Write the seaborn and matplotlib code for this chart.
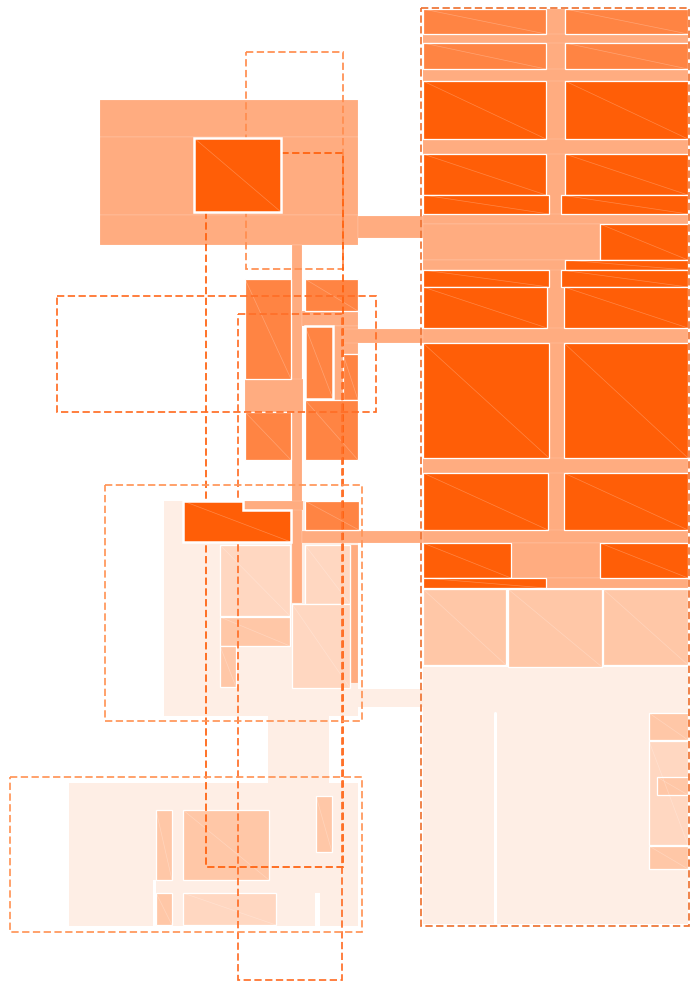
import matplotlib
matplotlib.use("Agg")
import matplotlib.pyplot as plt
from matplotlib.patches import Rectangle, Polygon
import seaborn as sns

sns.set_theme(style="white")

# colour levels of the plan (lightest -> darkest)
level_colors = sns.color_palette(["#FEEEE5", "#FFD7C1", "#FFC7A7", "#FFAC80", "#FF8443", "#FF5E07"])

# plan regions as (x0, y0, x1, y1) in plan units
open_areas = [  # level 0
    (164, 501, 358, 716), (358, 689, 423, 707), (268, 716, 329, 783),
    (69, 783, 358, 926), (423, 667, 688, 924),
]
gaps = [(315, 893, 320, 927), (153, 880, 156, 927)]  # white gaps cut into open areas
walls = [((495, 713), (495, 924))]  # white partition lines
light_rooms = [  # level 1
    (220, 545, 290, 616), (305, 545, 350, 604), (292, 604, 350, 688),
    (183, 893, 276, 925), (649, 741, 688, 845),
]
peach_rooms = [  # level 2
    (220, 617, 290, 646), (220, 646, 236, 687),
    (156, 810, 172, 880), (183, 810, 269, 880), (316, 796, 332, 852), (156, 893, 172, 925),
    (423, 589, 506, 665), (508, 589, 602, 667), (603, 589, 688, 665),
    (649, 713, 688, 740), (657, 777, 688, 795), (649, 846, 688, 869),
]
corridors = [  # level 3
    (100, 100, 358, 137), (100, 137, 358, 215), (100, 215, 358, 245),
    (358, 216, 423, 238), (292, 245, 302, 603),
    (245, 379, 303, 412), (302, 311, 358, 326), (333, 326, 358, 354), (333, 326, 343, 400),
    (343, 329, 423, 343), (243, 501, 303, 510), (302, 531, 423, 543), (351, 545, 358, 683),
    (546, 9, 565, 588), (423, 34, 688, 43), (423, 69, 688, 81), (423, 139, 688, 154),
    (423, 214, 688, 224), (423, 224, 600, 260), (423, 260, 565, 270), (423, 328, 688, 343),
    (423, 458, 688, 473), (423, 530, 688, 543), (511, 543, 600, 578), (546, 578, 688, 588),
    (542, 589, 570, 607),
]
medium_rooms = [  # level 4
    (245, 279, 291, 379), (245, 412, 291, 460), (305, 279, 358, 311),
    (343, 354, 358, 400), (305, 400, 358, 460), (305, 501, 359, 530),
    (423, 9, 546, 34), (565, 9, 688, 34), (423, 43, 546, 69), (565, 43, 688, 69),
]
dark_rooms = [  # level 5
    (423, 81, 546, 139), (565, 81, 688, 139), (423, 154, 546, 195), (565, 154, 688, 195),
    (423, 195, 549, 214), (561, 195, 688, 214), (600, 224, 688, 260), (565, 260, 688, 270),
    (423, 270, 549, 287), (561, 270, 688, 287), (423, 287, 547, 328), (564, 287, 688, 328),
    (423, 343, 549, 458), (564, 343, 688, 458), (423, 473, 548, 530), (564, 473, 688, 530),
    (423, 543, 511, 578), (600, 543, 688, 578), (423, 578, 546, 588),
]
# highlighted rooms (thick white outline), given as outlines
selected_rooms = [
    [(194, 138), (281, 138), (281, 212), (194, 212)],
    [(305, 326), (333, 326), (333, 399), (305, 399)],
    [(183, 501), (243, 501), (243, 510), (291, 510), (291, 542), (183, 542)],
]
selected_levels = [5, 4, 5]

# dashed bounding boxes
box_coords = [
    (246, 52, 343, 269), (206, 153, 343, 867), (57, 296, 376, 412), (238, 314, 342, 980),
    (105, 485, 362, 721), (10, 777, 362, 932), (421, 8, 689, 926),
]
box_colors = ["#FF8D4F", "#FF600C", "#FF6E26", "#FF7029", "#FF9558", "#FF9558", "#EE7434"]


def draw(ax, rects, color, lw=0.9, ec="white", z=1, diag=True):
    for x0, y0, x1, y1 in rects:
        ax.add_patch(Rectangle((x0, y0), x1 - x0, y1 - y0, facecolor=color,
                               edgecolor=ec, linewidth=lw, zorder=z))
        if diag:
            ax.plot([x0, x1], [y0, y1], color="white", alpha=0.25, lw=0.5, zorder=z + 0.1)


fig = plt.figure(figsize=(6.9, 9.86), dpi=100)
ax = fig.add_axes([0, 0, 1, 1])

draw(ax, open_areas, level_colors[0], lw=0, ec="none", z=1, diag=False)
draw(ax, gaps, "white", lw=0, ec="none", z=1.5, diag=False)
for (xa, ya), (xb, yb) in walls:
    ax.plot([xa, xb], [ya, yb], color="white", lw=2.2, zorder=1.6)
draw(ax, corridors, level_colors[3], lw=0.3, ec=(1, 1, 1, 0.35), z=2, diag=False)
draw(ax, light_rooms, level_colors[1], z=3)
draw(ax, peach_rooms, level_colors[2], z=3)
draw(ax, medium_rooms, level_colors[4], z=3)
draw(ax, dark_rooms, level_colors[5], z=3)

for (x0, y0, x1, y1), c in zip(box_coords, box_colors):
    ax.add_patch(Rectangle((x0, y0), x1 - x0, y1 - y0, fill=False, edgecolor=c,
                           linewidth=1.25, linestyle=(0, (4.2, 2.0)), zorder=5))

for pts, lv in zip(selected_rooms, selected_levels):
    ax.add_patch(Polygon(pts, closed=True, facecolor=level_colors[lv],
                         edgecolor="white", linewidth=1.8, zorder=6))
    xs = [p[0] for p in pts]
    ys = [p[1] for p in pts]
    ax.plot([min(xs), max(xs)], [min(ys), max(ys)], color="white", alpha=0.25, lw=0.5, zorder=6.1)

ax.set_xlim(0, 690)
ax.set_ylim(986, 0)
ax.axis("off")

fig.savefig("out.png", dpi=100)
